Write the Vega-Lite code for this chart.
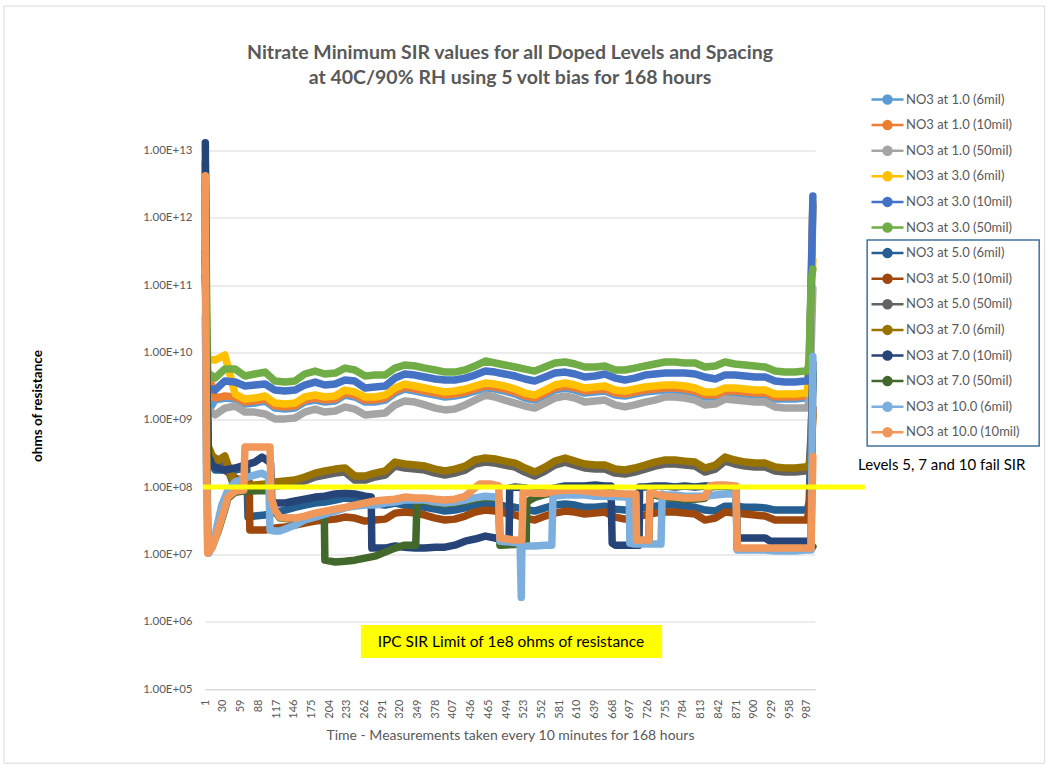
{
"$schema":"https://vega.github.io/schema/vega-lite/v6.json",
"width":610,"height":538.5,
"autosize":{"type":"none"},
"padding":{"left":205,"top":150.5,"right":234,"bottom":79},
"background":"white",
"config":{"view":{"stroke":null},"font":"Lato"},
"title":{"text":["Nitrate Minimum SIR values  for all Doped Levels and Spacing","at 40C/90% RH using 5 volt bias for 168 hours"],"font":"Lato","fontSize":19.5,"fontWeight":"bold","color":"#595959","anchor":"middle","offset":-83,"lineHeight":25},
"datasets":{
"names":[{"k":"a","name":"NO3 at 1.0 (6mil)"},{"k":"b","name":"NO3 at 1.0 (10mil)"},{"k":"c","name":"NO3 at 1.0  (50mil)"},{"k":"d","name":"NO3 at 3.0 (6mil)"},{"k":"e","name":"NO3 at 3.0 (10mil)"},{"k":"f","name":"NO3 at 3.0 (50mil)"},{"k":"g","name":"NO3 at 5.0 (6mil)"},{"k":"h","name":"NO3 at 5.0 (10mil)"},{"k":"i","name":"NO3 at 5.0 (50mil)"},{"k":"j","name":"NO3 at 7.0 (6mil)"},{"k":"k","name":"NO3 at 7.0 (10mil)"},{"k":"l","name":"NO3 at 7.0 (50mil)"},{"k":"m","name":"NO3 at 10.0 (6mil)"},{"k":"n","name":"NO3 at 10.0 (10mil)"}],
"sir":[
{"x":1,"a":1.6e12,"b":6.3e12,"c":3.4e10,"d":1.3e11,"e":4.4e11,"f":6.8e12,"g":2.5e11,"h":1.4e11,"i":3.2e12,"j":1.7e12,"k":1.3e13,"l":3.1e11,"m":1.6e12,"n":4.2e12},
{"x":2,"a":2e10,"b":1.4e11,"c":5e9,"d":7.7e10,"e":2e11,"f":6.2e11,"g":3e10,"h":6e10,"i":2e10,"j":8e10,"k":4.4e11,"l":1e11,"m":1e9,"n":4e10},
{"x":3,"a":1.2e9,"b":6e9,"c":1.5e9,"d":8e9,"e":3e9,"f":1e11,"g":6e9,"h":2e9,"i":3e9,"j":5e9,"k":6e9,"l":3e9,"m":1.2e8,"n":2.7e8},
{"x":5,"f":5e9,"l":1.1e7,"n":1.04e7},
{"x":6,"g":3e8,"h":3e8,"i":3e8,"j":4e8,"k":3e8},
{"x":7,"m":1.04e7},
{"x":12,"k":2.12e8,"l":1.3e7,"n":1.24e7},
{"x":17,"a":1.96e9,"b":2.1e9,"c":1.18e9,"d":7.71e9,"e":2.76e9,"f":4.16e9,"g":1.79e8,"h":2.7e8,"i":2.05e8,"j":2.35e8,"k":1.98e8,"m":1.94e7},
{"x":22,"l":2.2e7,"n":2.3e7},
{"x":28,"m":5.4e7},
{"x":32,"l":4.3e7,"n":4.55e7},
{"x":33,"a":2.1e9,"b":2.25e9,"c":1.49e9,"d":9.15e9,"e":3.76e9,"f":5.66e9,"g":1.79e8,"h":1.79e8,"i":2.52e8,"j":2.89e8,"k":1.79e8},
{"x":38,"l":6.8e7,"m":9.0e7,"n":7.1e7},
{"x":50,"a":2.03e9,"b":2.18e9,"c":1.6e9,"d":2.41e9,"e":3.63e9,"f":5.66e9,"g":1.79e8,"h":1.36e8,"i":9.0e7,"j":1.04e8,"k":1.92e8,"l":8.4e7,"m":1.19e8,"n":8.7e7},
{"x":64,"l":8.7e7,"n":9.0e7},
{"x":66,"a":1.71e9,"b":1.83e9,"c":1.3e9,"d":2.03e9,"e":3.17e9,"f":4.46e9,"g":1.92e8,"h":1.23e8,"i":9.0e7,"j":1.04e8,"k":2.12e8,"l":8.7e7,"m":1.36e8,"n":3.93e8},
{"x":69,"g":1.92e8},
{"x":71,"g":3.58e7},
{"x":73,"h":1.19e8},
{"x":74,"h":2.3e7},
{"x":82,"a":1.77e9,"b":1.9e9,"c":1.3e9,"d":2.1e9,"e":3.28e9,"f":4.78e9,"g":3.71e7,"h":2.3e7,"i":9.3e7,"j":1.07e8,"k":2.35e8,"m":1.51e8},
{"x":87,"l":8.8e7,"n":3.93e8},
{"x":94,"k":2.79e8,"m":1.61e8},
{"x":99,"a":1.9e9,"b":2.03e9,"c":1.22e9,"d":2.25e9,"e":3.39e9,"f":5.11e9,"g":3.84e7,"h":2.3e7,"i":9.7e7,"j":1.11e8,"k":2.61e8},
{"x":105,"m":1.41e8},
{"x":107,"l":8.8e7,"m":2.3e7,"n":3.93e8},
{"x":108,"k":2.27e8},
{"x":109,"l":6.8e7,"n":7.1e7},
{"x":110,"k":6.4e7},
{"x":115,"a":1.49e9,"b":1.6e9,"c":1.03e9,"d":1.77e9,"e":2.76e9,"f":3.76e9,"g":4.25e7,"h":2.46e7,"i":1.04e8,"j":1.19e8,"k":5.8e7,"l":4.4e7,"m":2.22e7,"n":4.55e7},
{"x":123,"l":3.5e7,"m":2.22e7,"n":3.58e7},
{"x":132,"a":1.44e9,"b":1.55e9,"c":1.03e9,"d":1.71e9,"e":2.67e9,"f":3.63e9,"g":4.55e7,"h":2.55e7,"i":1.07e8,"j":1.23e8,"k":5.8e7,"l":3.4e7,"m":2.38e7,"n":3.46e7},
{"x":148,"a":1.49e9,"b":1.6e9,"c":1.06e9,"d":1.77e9,"e":2.76e9,"f":3.76e9,"g":5.0e7,"h":2.72e7,"i":1.11e8,"j":1.27e8,"k":6.2e7,"l":3.4e7,"m":2.72e7,"n":3.46e7},
{"x":164,"a":1.83e9,"b":1.96e9,"c":1.3e9,"d":2.18e9,"e":3.28e9,"f":4.78e9,"g":5.4e7,"h":2.92e7,"i":1.23e8,"j":1.41e8,"k":6.6e7,"l":3.6e7,"m":3.24e7,"n":3.71e7},
{"x":181,"a":1.96e9,"b":2.1e9,"c":1.44e9,"d":2.33e9,"e":3.63e9,"f":5.29e9,"g":5.8e7,"h":3.12e7,"i":1.41e8,"j":1.61e8,"k":7.1e7,"l":4.0e7,"m":3.58e7,"n":4.1e7},
{"x":196,"l":4.3e7},
{"x":197,"a":1.83e9,"b":1.96e9,"c":1.3e9,"d":2.18e9,"e":3.28e9,"f":4.78e9,"g":6.0e7,"h":3.24e7,"i":1.51e8,"j":1.73e8,"k":7.3e7,"l":8.2e6,"m":3.97e7,"n":4.4e7},
{"x":214,"a":1.9e9,"b":2.03e9,"c":1.35e9,"d":2.25e9,"e":3.39e9,"f":4.94e9,"g":6.4e7,"h":3.34e7,"i":1.61e8,"j":1.85e8,"k":7.9e7,"l":7.7e6,"m":4.4e7,"n":4.7e7},
{"x":230,"a":2.33e9,"b":2.49e9,"c":1.55e9,"d":2.76e9,"e":3.89e9,"f":5.86e9,"g":6.9e7,"h":3.58e7,"i":1.67e8,"j":1.92e8,"k":8.1e7,"l":7.9e6,"m":4.9e7,"n":5.0e7},
{"x":246,"a":2.18e9,"b":2.33e9,"c":1.44e9,"d":2.58e9,"e":3.76e9,"f":5.48e9,"g":6.6e7,"h":3.46e7,"i":1.27e8,"j":1.46e8,"k":7.9e7,"l":8.2e6,"m":5.2e7,"n":5.4e7},
{"x":263,"a":1.83e9,"b":1.96e9,"c":1.18e9,"d":2.18e9,"e":2.96e9,"f":4.46e9,"g":5.8e7,"h":3.12e7,"i":1.27e8,"j":1.46e8,"k":7.3e7,"l":8.8e6,"m":5.4e7,"n":5.8e7},
{"x":273,"k":7.1e7},
{"x":274,"k":1.24e7},
{"x":279,"a":1.83e9,"b":1.96e9,"c":1.22e9,"d":2.18e9,"e":3.06e9,"f":4.61e9,"g":5.6e7,"h":3.24e7,"i":1.41e8,"j":1.61e8,"k":1.24e7,"l":9.4e6,"m":5.4e7,"n":6.2e7},
{"x":296,"a":1.96e9,"b":2.1e9,"c":1.26e9,"d":2.33e9,"e":3.17e9,"f":4.61e9,"g":5.4e7,"h":3.34e7,"i":1.51e8,"j":1.73e8,"k":1.24e7,"l":1.08e7,"m":5.8e7,"n":6.4e7},
{"x":312,"a":2.49e9,"b":2.67e9,"c":1.66e9,"d":2.96e9,"e":4.16e9,"f":5.86e9,"g":5.8e7,"h":4.1e7,"i":2.05e8,"j":2.35e8,"k":1.33e7,"l":1.24e7,"m":6.0e7,"n":6.6e7},
{"x":328,"a":2.86e9,"b":3.06e9,"c":1.9e9,"d":3.39e9,"e":4.78e9,"f":6.5e9,"g":5.4e7,"h":4.25e7,"i":1.92e8,"j":2.2e8,"k":1.28e7,"l":1.37e7,"m":6.4e7,"n":7.1e7},
{"x":345,"a":2.67e9,"b":2.86e9,"c":1.83e9,"d":3.17e9,"e":4.61e9,"f":6.28e9,"g":5.2e7,"h":4.1e7,"i":1.85e8,"j":2.12e8,"k":1.24e7,"m":6.4e7,"n":6.9e7},
{"x":346,"l":1.37e7},
{"x":348,"l":6.2e7},
{"x":361,"a":2.49e9,"b":2.67e9,"c":1.66e9,"d":2.96e9,"e":4.31e9,"f":5.86e9,"g":5.0e7,"h":3.84e7,"i":1.79e8,"j":2.05e8,"k":1.24e7,"l":6.2e7,"m":6.4e7,"n":6.9e7},
{"x":378,"a":2.33e9,"b":2.49e9,"c":1.49e9,"d":2.76e9,"e":4.03e9,"f":5.48e9,"g":4.7e7,"h":3.46e7,"i":1.61e8,"j":1.85e8,"k":1.28e7,"l":5.8e7,"m":6.0e7,"n":6.6e7},
{"x":394,"a":2.18e9,"b":2.33e9,"c":1.4e9,"d":2.58e9,"e":3.89e9,"f":5.11e9,"g":4.4e7,"h":3.24e7,"i":1.51e8,"j":1.73e8,"k":1.28e7,"l":5.6e7,"m":5.8e7,"n":6.4e7},
{"x":410,"a":2.25e9,"b":2.41e9,"c":1.44e9,"d":2.67e9,"e":3.89e9,"f":5.11e9,"g":4.55e7,"h":3.34e7,"i":1.61e8,"j":1.85e8,"k":1.37e7,"l":5.8e7,"m":6.0e7,"n":6.6e7},
{"x":427,"a":2.41e9,"b":2.58e9,"c":1.66e9,"d":2.86e9,"e":4.16e9,"f":5.48e9,"g":4.9e7,"h":3.71e7,"i":1.79e8,"j":2.05e8,"k":1.57e7,"l":6.2e7,"m":6.4e7,"n":7.3e7},
{"x":443,"a":2.67e9,"b":2.86e9,"c":1.96e9,"d":3.17e9,"e":4.61e9,"f":6.28e9,"g":5.4e7,"h":4.25e7,"i":2.2e8,"j":2.52e8,"k":1.69e7,"l":6.6e7,"m":6.9e7,"n":9.7e7},
{"x":451,"n":1.11e8},
{"x":460,"a":2.96e9,"b":3.17e9,"c":2.33e9,"d":3.51e9,"e":5.29e9,"f":7.45e9,"g":5.8e7,"h":4.55e7,"i":2.35e8,"j":2.7e8,"k":1.87e7,"l":7.0e7,"m":7.3e7},
{"x":468,"n":1.11e8},
{"x":476,"a":2.86e9,"b":3.06e9,"c":2.18e9,"d":3.39e9,"e":5.11e9,"f":6.96e9,"g":5.6e7,"h":4.4e7,"i":2.27e8,"j":2.61e8,"k":1.75e7,"l":6.9e7,"m":7.1e7},
{"x":482,"l":6.6e7,"m":6.9e7,"n":1.04e8},
{"x":484,"l":1.37e7,"m":1.57e7,"n":1.75e7},
{"x":492,"a":2.67e9,"b":2.86e9,"c":1.96e9,"d":3.17e9,"e":4.78e9,"f":6.5e9,"g":5.2e7,"h":4.1e7,"i":2.12e8,"j":2.43e8,"k":1.63e7},
{"x":499,"k":1.63e7},
{"x":500,"k":9.7e7,"m":1.52e7},
{"x":509,"a":2.41e9,"b":2.58e9,"c":1.77e9,"d":2.86e9,"e":4.46e9,"f":6.07e9,"g":5.0e7,"h":3.84e7,"i":1.98e8,"j":2.27e8,"k":1.0e8,"n":1.63e7},
{"x":517,"m":1.47e7},
{"x":519,"m":2.3e6},
{"x":520,"m":1.33e7,"n":1.63e7},
{"x":522,"n":8.4e7},
{"x":525,"a":2.1e9,"b":2.25e9,"c":1.6e9,"d":2.49e9,"e":4.03e9,"f":5.66e9,"g":4.7e7,"h":3.46e7,"i":1.67e8,"j":1.92e8,"k":9.7e7},
{"x":527,"l":1.42e7},
{"x":528,"l":6.0e7},
{"x":541,"a":1.96e9,"b":2.1e9,"c":1.49e9,"d":2.33e9,"e":3.76e9,"f":5.29e9,"g":4.4e7,"h":3.24e7,"i":1.46e8,"j":1.67e8,"k":9.0e7,"l":7.0e7,"m":1.33e7,"n":8.1e7},
{"x":558,"a":2.33e9,"b":2.49e9,"c":1.77e9,"d":2.76e9,"e":4.31e9,"f":6.07e9,"g":4.9e7,"h":3.71e7,"i":1.73e8,"j":1.98e8,"k":9.0e7,"l":7.8e7,"m":1.37e7,"n":8.1e7},
{"x":569,"m":1.37e7},
{"x":571,"m":7.3e7},
{"x":574,"a":2.76e9,"b":2.96e9,"c":2.1e9,"d":3.28e9,"e":4.94e9,"f":6.96e9,"g":5.4e7,"h":4.1e7,"i":2.12e8,"j":2.43e8,"k":9.7e7,"l":8.3e7,"n":8.7e7},
{"x":591,"a":2.96e9,"b":3.17e9,"c":2.25e9,"d":3.51e9,"e":5.11e9,"f":7.2e9,"g":5.6e7,"h":4.4e7,"i":2.35e8,"j":2.7e8,"k":1.04e8,"l":8.6e7,"m":7.6e7,"n":9.0e7},
{"x":607,"a":2.76e9,"b":2.96e9,"c":2.1e9,"d":3.28e9,"e":4.78e9,"f":6.73e9,"g":5.4e7,"h":4.25e7,"i":2.12e8,"j":2.43e8,"k":1.04e8,"l":8.6e7,"m":7.6e7,"n":9.0e7},
{"x":623,"a":2.49e9,"b":2.67e9,"c":1.83e9,"d":2.96e9,"e":4.31e9,"f":6.07e9,"g":5.0e7,"h":3.97e7,"i":1.92e8,"j":2.2e8,"k":1.04e8,"l":8.3e7,"m":7.6e7,"n":8.7e7},
{"x":640,"a":2.58e9,"b":2.76e9,"c":1.9e9,"d":3.06e9,"e":4.46e9,"f":6.07e9,"g":5.0e7,"h":4.1e7,"i":1.85e8,"j":2.12e8,"k":1.07e8,"l":8.0e7,"m":7.3e7,"n":8.4e7},
{"x":656,"a":2.67e9,"b":2.86e9,"c":1.96e9,"d":3.17e9,"e":4.78e9,"f":6.28e9,"g":5.2e7,"h":4.25e7,"i":1.85e8,"j":2.12e8,"k":1.04e8,"l":7.8e7,"m":7.3e7,"n":8.1e7},
{"x":666,"k":1.04e8},
{"x":668,"k":1.47e7},
{"x":673,"a":2.33e9,"b":2.49e9,"c":1.66e9,"d":2.76e9,"e":4.16e9,"f":5.48e9,"g":4.7e7,"h":3.58e7,"i":1.61e8,"j":1.85e8,"k":1.37e7,"l":7.8e7,"n":8.1e7},
{"x":689,"a":2.25e9,"b":2.41e9,"c":1.55e9,"d":2.67e9,"e":3.89e9,"f":5.48e9,"g":4.55e7,"h":3.34e7,"i":1.56e8,"j":1.79e8,"k":1.37e7,"l":7.6e7,"m":7.1e7,"n":7.9e7},
{"x":696,"m":7.1e7},
{"x":697,"m":1.47e7},
{"x":705,"a":2.41e9,"b":2.58e9,"c":1.66e9,"d":2.86e9,"e":4.16e9,"f":5.86e9,"g":4.7e7,"h":3.58e7,"i":1.67e8,"j":1.92e8,"k":1.37e7,"l":7.6e7,"m":1.42e7,"n":7.9e7},
{"x":707,"l":7.6e7,"n":7.9e7},
{"x":708,"l":1.55e7,"n":1.63e7},
{"x":712,"k":1.37e7},
{"x":713,"k":1.0e8},
{"x":722,"a":2.58e9,"b":2.76e9,"c":1.83e9,"d":3.06e9,"e":4.61e9,"f":6.28e9,"g":5.0e7,"h":3.84e7,"i":1.85e8,"j":2.12e8,"k":1.0e8,"l":1.55e7,"m":1.42e7,"n":1.63e7},
{"x":728,"l":1.55e7,"n":1.63e7},
{"x":730,"l":8.0e7,"n":8.4e7},
{"x":738,"a":2.67e9,"b":2.86e9,"c":1.96e9,"d":3.17e9,"e":4.78e9,"f":6.73e9,"g":5.2e7,"h":4.1e7,"i":2.05e8,"j":2.35e8,"k":1.04e8,"l":7.6e7,"m":1.42e7,"n":7.9e7},
{"x":748,"m":1.42e7},
{"x":750,"m":7.9e7},
{"x":755,"a":2.76e9,"b":2.96e9,"c":2.18e9,"d":3.28e9,"e":4.94e9,"f":7.2e9,"g":5.4e7,"h":4.25e7,"i":2.2e8,"j":2.52e8,"k":1.04e8,"l":7.0e7,"m":7.6e7,"n":7.3e7},
{"x":771,"a":2.76e9,"b":2.96e9,"c":2.18e9,"d":3.28e9,"e":4.94e9,"f":7.2e9,"g":5.4e7,"h":4.25e7,"i":2.2e8,"j":2.52e8,"k":1.0e8,"l":6.8e7,"m":7.6e7,"n":7.1e7},
{"x":787,"a":2.67e9,"b":2.86e9,"c":2.1e9,"d":3.17e9,"e":4.94e9,"f":6.96e9,"g":5.2e7,"h":4.1e7,"i":2.12e8,"j":2.43e8,"k":1.04e8,"l":6.6e7,"m":7.3e7,"n":6.9e7},
{"x":804,"a":2.49e9,"b":2.67e9,"c":1.96e9,"d":2.96e9,"e":4.78e9,"f":6.96e9,"g":5.0e7,"h":3.97e7,"i":2.05e8,"j":2.35e8,"k":1.0e8,"l":6.6e7,"m":7.3e7,"n":6.9e7},
{"x":820,"a":2.18e9,"b":2.33e9,"c":1.66e9,"d":2.58e9,"e":4.31e9,"f":6.07e9,"g":4.55e7,"h":3.24e7,"i":1.67e8,"j":1.92e8,"k":1.04e8,"l":6.8e7,"m":7.3e7,"n":7.1e7},
{"x":828,"l":1.0e8,"n":1.04e8},
{"x":837,"a":2.18e9,"b":2.33e9,"c":1.71e9,"d":2.58e9,"e":4.03e9,"f":6.28e9,"g":4.4e7,"h":3.46e7,"i":1.85e8,"j":2.12e8,"k":1.04e8,"l":1.02e8,"m":7.6e7,"n":1.07e8},
{"x":853,"a":2.49e9,"b":2.67e9,"c":2.03e9,"d":2.96e9,"e":4.61e9,"f":7.2e9,"g":5.2e7,"h":4.25e7,"i":2.43e8,"j":2.79e8,"k":1.04e8,"l":1.02e8,"m":7.9e7,"n":1.07e8},
{"x":869,"a":2.49e9,"b":2.67e9,"c":1.96e9,"d":2.96e9,"e":4.61e9,"f":6.73e9,"g":5.2e7,"h":4.1e7,"i":2.2e8,"j":2.52e8,"k":1.0e8,"l":1.0e8,"m":7.9e7,"n":1.04e8},
{"x":871,"k":1.0e8,"l":1.0e8,"m":7.9e7,"n":1.04e8},
{"x":873,"k":1.75e7,"l":1.2e7,"m":1.16e7,"n":1.24e7},
{"x":886,"a":2.41e9,"b":2.58e9,"c":1.9e9,"d":2.86e9,"e":4.46e9,"f":6.5e9,"g":5.0e7,"h":3.97e7,"i":2.05e8,"j":2.35e8,"k":1.75e7,"l":1.2e7,"m":1.16e7,"n":1.24e7},
{"x":902,"a":2.33e9,"b":2.49e9,"c":1.83e9,"d":2.76e9,"e":4.31e9,"f":6.28e9,"g":5.0e7,"h":3.84e7,"i":1.98e8,"j":2.27e8,"k":1.75e7,"l":1.2e7,"m":1.16e7,"n":1.24e7},
{"x":919,"a":2.33e9,"b":2.49e9,"c":1.83e9,"d":2.76e9,"e":4.31e9,"f":6.07e9,"g":4.9e7,"h":3.71e7,"i":1.98e8,"j":2.27e8,"k":1.75e7,"l":1.2e7,"m":1.16e7,"n":1.24e7},
{"x":927,"k":1.57e7},
{"x":935,"a":2.03e9,"b":2.18e9,"c":1.55e9,"d":2.41e9,"e":3.76e9,"f":5.29e9,"g":4.55e7,"h":3.24e7,"i":1.73e8,"j":1.98e8,"k":1.57e7,"l":1.2e7,"m":1.12e7,"n":1.24e7},
{"x":951,"a":2.03e9,"b":2.18e9,"c":1.49e9,"d":2.41e9,"e":3.63e9,"f":5.11e9,"g":4.55e7,"h":3.24e7,"i":1.67e8,"j":1.92e8,"k":1.57e7,"l":1.2e7,"m":1.12e7,"n":1.24e7},
{"x":968,"a":2.03e9,"b":2.18e9,"c":1.49e9,"d":2.41e9,"e":3.63e9,"f":5.11e9,"g":4.55e7,"h":3.24e7,"i":1.67e8,"j":1.92e8,"k":1.57e7,"l":1.2e7,"m":1.12e7,"n":1.24e7},
{"x":984,"a":2.1e9,"b":2.25e9,"c":1.49e9,"d":2.49e9,"e":3.76e9,"f":5.29e9,"g":4.55e7,"h":3.24e7,"i":1.73e8,"j":1.98e8,"k":1.57e7,"l":1.2e7,"m":1.16e7,"n":1.24e7},
{"x":988,"a":2.1e9,"b":2.25e9,"c":1.49e9,"d":2.49e9,"e":3.76e9,"f":5.29e9,"g":4.55e7,"h":3.24e7,"i":1.73e8,"j":1.98e8,"k":1.57e7,"l":1.2e7,"m":1.16e7,"n":1.24e7},
{"x":991,"a":3e9,"b":3.5e9,"c":2e9,"d":1.2e10,"e":5e9,"f":7e9,"g":6e7,"h":5e7,"i":2e8,"j":2.2e8,"k":1.6e7,"l":1.2e7,"m":1.16e7,"n":1.24e7},
{"x":994,"a":5e10,"b":9e10,"c":1e10,"d":5.7e10,"e":9e10,"f":1.1e11,"g":5e8,"h":1.5e8,"i":6e8,"j":3e8,"k":1.6e7,"l":1.2e7,"m":1.16e7,"n":1.24e7},
{"x":997,"a":1.46e12,"b":1.66e12,"c":9e10,"d":2.37e11,"e":2.1e12,"f":1.73e11,"g":5e9,"h":1.5e9,"i":3.9e9,"j":1.2e9,"k":7e9,"l":1.3e7,"m":8.7e9,"n":2.85e8}
],
"border":[{"x0":-329,"x1":1377,"y0":1.4e15,"y1":7.9e3}],
"limit":[{"x0":-3,"x1":1082,"v":1e8}],
"lbox":[{"x0":1086,"x1":1368,"y0":4.68e11,"y1":4.06e8}],
"note":[{"x":1071,"v":2.12e8,"t":"Levels 5, 7 and 10 fail SIR"}],
"ipcbox":[{"x0":256,"x1":750,"y0":2.88e5,"y1":8.9e5}],
"ipc":[{"x":502,"v":5.06e5,"t":"IPC SIR Limit of 1e8 ohms of resistance"}]
},
"layer":[
{"data":{"name":"border"},"mark":{"type":"rect","fill":null,"stroke":"#D9D9D9","strokeWidth":1},
 "encoding":{"x":{"field":"x0","type":"quantitative","scale":{"domain":[0.5,1000.5],"nice":false,"zero":false}},"x2":{"field":"x1"},
 "y":{"field":"y0","type":"quantitative","scale":{"type":"log","domain":[1e5,1e13],"nice":false}},"y2":{"field":"y1"}}},
{"data":{"name":"sir"},
 "transform":[{"fold":["a","b","c","d","e","f","g","h","i","j","k","l","m","n"],"as":["k","v"]},{"filter":"isValid(datum.v)"},{"lookup":"k","from":{"data":{"name":"names"},"key":"k","fields":["name"]}}],
 "mark":{"type":"line","strokeWidth":7.5,"strokeCap":"round","strokeJoin":"round"},
 "encoding":{
  "x":{"field":"x","type":"quantitative","scale":{"domain":[0.5,1000.5],"nice":false,"zero":false},
   "axis":{"title":"Time - Measurements taken every 10 minutes for 168 hours","titleFont":"Lato","titleFontSize":14,"titleFontWeight":"normal","titleColor":"#595959","titleY":46,"titleBaseline":"middle",
   "values":[1,30,59,88,117,146,175,204,233,262,291,320,349,378,407,436,465,494,523,552,581,610,639,668,697,726,755,784,813,842,871,900,929,958,987],"tickCount":60,
   "labelAngle":-90,"labelFont":"Lato","labelFontSize":11,"labelColor":"#595959","labelPadding":10,"ticks":false,"tickSize":0,"grid":false,"domain":true,"domainColor":"#D9D9D9","labelOverlap":false,"labelFlush":false}},
  "y":{"field":"v","type":"quantitative","scale":{"type":"log","domain":[1e5,1e13],"nice":false},
   "axis":{"title":"ohms of resistance","titleFont":"Lato","titleFontSize":13.5,"titleFontWeight":"bold","titleColor":"#000000","titleX":-168,"titleY":255,"titleAngle":-90,"titleBaseline":"middle","titleAlign":"center",
   "values":[1e5,1e6,1e7,1e8,1e9,1e10,1e11,1e12,1e13],"tickCount":20,"labelExpr":"'1.00E+' + (datum.value < 1e10 ? '0' : '') + round(log(datum.value) / LN10)",
   "labelFont":"Lato","labelFontSize":11.5,"labelColor":"#595959","labelPadding":13,"ticks":false,"domain":false,"grid":true,"gridColor":"#D9D9D9","gridWidth":1}},
  "color":{"field":"name","type":"nominal",
   "scale":{"domain":["NO3 at 1.0 (6mil)","NO3 at 1.0 (10mil)","NO3 at 1.0  (50mil)","NO3 at 3.0 (6mil)","NO3 at 3.0 (10mil)","NO3 at 3.0 (50mil)","NO3 at 5.0 (6mil)","NO3 at 5.0 (10mil)","NO3 at 5.0 (50mil)","NO3 at 7.0 (6mil)","NO3 at 7.0 (10mil)","NO3 at 7.0 (50mil)","NO3 at 10.0 (6mil)","NO3 at 10.0 (10mil)"],
    "range":["#5B9BD5","#ED7D31","#A5A5A5","#FFC000","#4472C4","#70AD47","#255E91","#9E480E","#636363","#997300","#264478","#43682B","#7CAFDD","#F1975A"]},
   "legend":{"orient":"none","legendX":665,"legendY":-59,"title":null,"padding":0,"labelFont":"Lato","labelFontSize":13,"labelColor":"#595959","clipHeight":16,"rowPadding":9.6,"labelOffset":1,
    "symbolSize":1024,"symbolStrokeWidth":2.5,"symbolType":"M-1,0L1,0M-0.25,0A0.25,0.25,0,1,0,0.25,0A0.25,0.25,0,1,0,-0.25,0Z",
    "encode":{"symbols":{"update":{"fill":{"scale":"color","field":"value"},"stroke":{"scale":"color","field":"value"},"fillOpacity":{"value":1},"strokeOpacity":{"value":1}}}}}}
 }},
{"data":{"name":"limit"},"mark":{"type":"rule","color":"#FFFF00","strokeWidth":5},
 "encoding":{"x":{"field":"x0","type":"quantitative","scale":{"domain":[0.5,1000.5],"nice":false,"zero":false}},"x2":{"field":"x1"},
 "y":{"field":"v","type":"quantitative","scale":{"type":"log","domain":[1e5,1e13],"nice":false}}}},
{"data":{"name":"lbox"},"mark":{"type":"rect","fill":null,"stroke":"#41719C","strokeWidth":1.5},
 "encoding":{"x":{"field":"x0","type":"quantitative","scale":{"domain":[0.5,1000.5],"nice":false,"zero":false}},"x2":{"field":"x1"},
 "y":{"field":"y0","type":"quantitative","scale":{"type":"log","domain":[1e5,1e13],"nice":false}},"y2":{"field":"y1"}}},
{"data":{"name":"note"},"mark":{"type":"text","align":"left","baseline":"middle","font":"Lato","fontSize":15,"color":"#000000"},
 "encoding":{"x":{"field":"x","type":"quantitative","scale":{"domain":[0.5,1000.5],"nice":false,"zero":false}},
 "y":{"field":"v","type":"quantitative","scale":{"type":"log","domain":[1e5,1e13],"nice":false}},"text":{"field":"t"}}},
{"data":{"name":"ipcbox"},"mark":{"type":"rect","fill":"#FFFF00"},
 "encoding":{"x":{"field":"x0","type":"quantitative","scale":{"domain":[0.5,1000.5],"nice":false,"zero":false}},"x2":{"field":"x1"},
 "y":{"field":"y0","type":"quantitative","scale":{"type":"log","domain":[1e5,1e13],"nice":false}},"y2":{"field":"y1"}}},
{"data":{"name":"ipc"},"mark":{"type":"text","align":"center","baseline":"middle","font":"Lato","fontSize":15.5,"color":"#000000"},
 "encoding":{"x":{"field":"x","type":"quantitative","scale":{"domain":[0.5,1000.5],"nice":false,"zero":false}},
 "y":{"field":"v","type":"quantitative","scale":{"type":"log","domain":[1e5,1e13],"nice":false}},"text":{"field":"t"}}}
]
}
